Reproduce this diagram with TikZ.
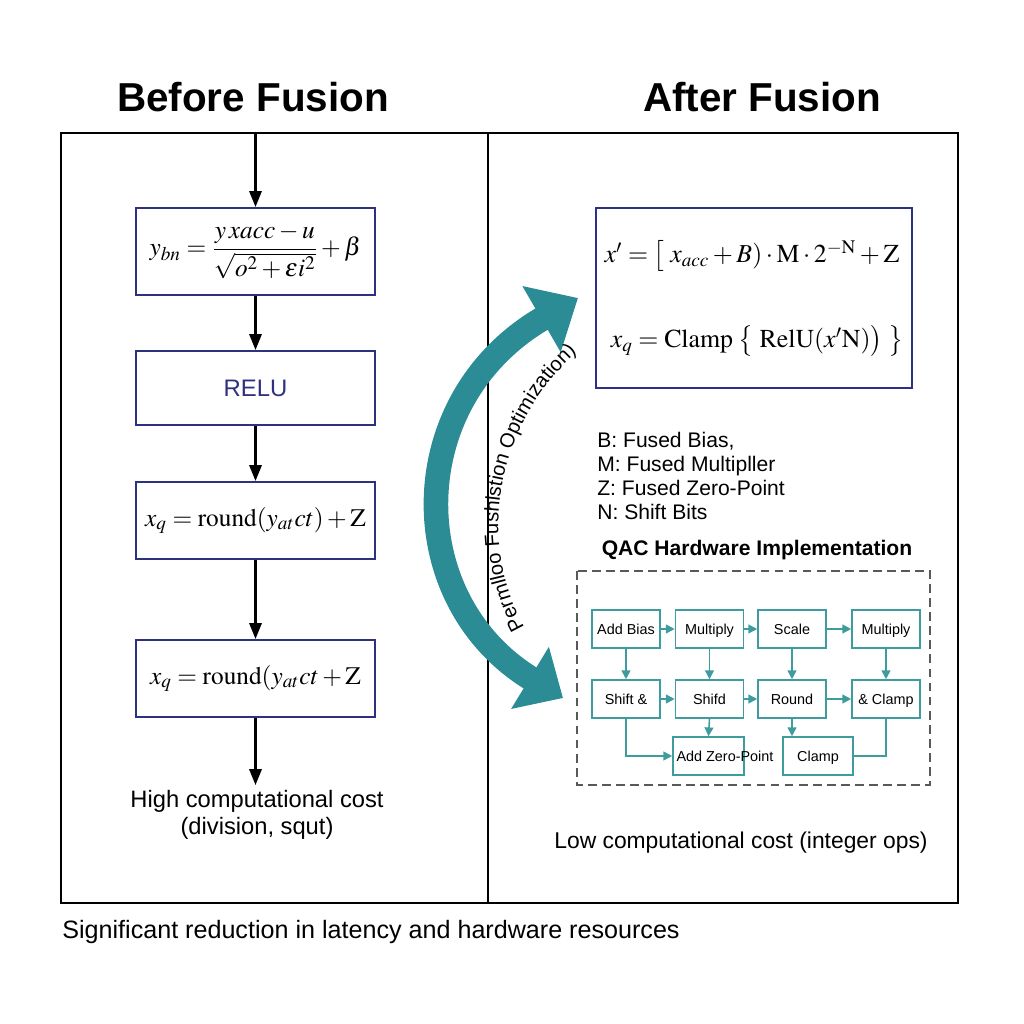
\documentclass[tikz,border=0pt]{standalone}
\usepackage{amsmath}
\usepackage{mathptmx}
\usepackage[no-math]{fontspec}
\setmainfont{Liberation Sans}
\usetikzlibrary{
		arrows.meta,
		decorations.text,
		positioning
	}
\definecolor{navy}{RGB}{46,48,128}
\definecolor{hwteal}{RGB}{62,156,158}
\definecolor{bigteal}{RGB}{44,140,150}
\tikzset{
		>={Triangle[length=9pt,width=7pt]},
		flowbox/.style={draw=navy, line width=1.2pt, minimum width=4.78cm, inner sep=0pt},
		flowarrow/.style={line width=1.2pt, ->},
		hwbox/.style={draw=hwteal, line width=0.9pt, minimum width=1.36cm, minimum height=0.76cm, inner sep=0pt, text height=1.5ex, text depth=0.3ex, font=\fontsize{8.2}{10}\selectfont},
		hwarrow/.style={hwteal, line width=0.9pt, -{Triangle[length=5pt,width=5pt]}},
		eqn/.style={font=\fontsize{14.4}{16}\selectfont},
		bigeqn/.style={font=\fontsize{14.7}{17}\selectfont},
		plain/.style={font=\fontsize{13.5}{15.4}\selectfont},
		title/.style={font=\bfseries\fontsize{23}{26}\selectfont}
	}

\begin{document}
\begin{tikzpicture}[x=0.02cm, y=-0.02cm]
\useasboundingbox (0,0) rectangle (1024,1024);
% headings and frame
\node[title] (before) at (253,97) {Before Fusion};
\node[title] (after) at (762,97) {After Fusion};
\draw[line width=0.8pt] (61,133) rectangle (958,903);
\draw[line width=0.8pt] (488,133) -- (488,903);

% before fusion
\coordinate (intop) at (255.5,133);
\node[flowbox, minimum height=1.74cm, eqn] (bn) at (255.5,251.5) {$y_{bn} = \dfrac{y\,xacc - u}{\sqrt{o^2 + \epsilon i^2}} + \beta$};
\node[flowbox, minimum height=1.48cm, font=\fontsize{13.6}{16}\selectfont, text=navy] (relu) at (255.5,388) {RELU};
\node[flowbox, minimum height=1.54cm, eqn] (xqa) at (255.5,520.5) {$x_q = \mathrm{round}(y_{at}ct) + \mathrm{Z}$};
\node[flowbox, minimum height=1.54cm, eqn] (xqb) at (255.5,678.5) {$x_q = \mathrm{round}(y_{at}ct + \mathrm{Z}$};
\coordinate (outend) at (255.5,785);
\draw[flowarrow] (intop) -- (bn.north);
\draw[flowarrow] (bn) -- (relu);
\draw[flowarrow] (relu) -- (xqa);
\draw[flowarrow] (xqa) -- (xqb);
\draw[flowarrow] (xqb.south) -- (outend);
\node[plain, align=center] (high) at (257,815) {High computational cost\\(division, squt)};

% after fusion
\node[flowbox, minimum width=6.32cm, minimum height=3.6cm] (fused) at (754,298) {};
\node[bigeqn] (fxa) at (752,256) {$x' = \big[\; x_{acc} + B)\cdot\mathrm{M}\cdot 2^{-\mathrm{N}} + \mathrm{Z}$};
\node[bigeqn] (fxb) at (757,341) {$x_q = \mathrm{Clamp}\;\big\{\; \mathrm{RelU}(x'\mathrm{N})\big)\;\big\}$};
\node[anchor=west, inner sep=0pt, align=left, font=\fontsize{12}{13.7}\selectfont] (legend) at (597,476) {B: Fused Bias,\\M: Fused Multipller\\Z: Fused Zero-Point\\N: Shift Bits};

% fusion arrow
\coordinate (fusestart) at (563,698);
\coordinate (fuseend) at (578,298);
\draw[bigteal, line width=14pt, {Triangle[length=22pt,width=40pt]}-{Triangle[length=24pt,width=42pt]}] (fusestart) .. controls (402,600) and (402,400) .. (fuseend);
\path[decorate, decoration={text along path, text align=center, text={|\fontsize{11.5}{13}\selectfont|Permlloo Fushlstion Optimization)}}] (540,650) .. controls (478,575) and (476,425) .. (598,335);

% hardware
\node[font=\bfseries\fontsize{12}{14}\selectfont] (qac) at (757,550) {QAC Hardware Implementation};
\draw[draw=black!65, line width=0.8pt, dash pattern=on 5pt off 3pt] (577,571) rectangle (930,785);
\node[hwbox] (ab) at (626,629) {Add Bias};
\node[hwbox] (mula) at (709.5,629) {Multiply};
\node[hwbox] (scl) at (792,629) {Scale};
\node[hwbox] (mulb) at (886,629) {Multiply};
\node[hwbox] (sha) at (626,699) {Shift \&};
\node[hwbox] (shb) at (709.5,699) {Shifd};
\node[hwbox] (rnd) at (792,699) {Round};
\node[hwbox] (clb) at (886,699) {\& Clamp};
\node[hwbox, minimum width=1.42cm] (zp) at (708.5,756) {};
\node[inner sep=0pt, font=\fontsize{8.2}{10}\selectfont] (zptext) at (725,756) {Add Zero-Point};
\node[hwbox, minimum width=1.4cm] (clc) at (818,756) {Clamp};
\draw[hwarrow] (ab) -- (mula);
\draw[hwarrow] (mula) -- (scl);
\draw[hwarrow] (scl) -- (mulb);
\draw[hwarrow] (ab) -- (sha);
\draw[hwarrow] (mula) -- (shb);
\draw[hwarrow] (scl) -- (rnd);
\draw[hwarrow] (mulb) -- (clb);
\draw[hwarrow] (sha) -- (shb);
\draw[hwarrow] (shb) -- (rnd);
\draw[hwarrow] (rnd) -- (clb);
\draw[hwarrow] (sha.south) |- (zp.west);
\draw[hwarrow] (shb.south) -- (zp.north);
\draw[hwarrow] (rnd.south) -- (rnd.south |- clc.north);
\draw[hwteal, line width=0.9pt] (clb.south) |- (clc.east);

\node[plain, font=\fontsize{13}{15}\selectfont] (low) at (741,843) {Low computational cost (integer ops)};
\node[plain, font=\fontsize{14.3}{16}\selectfont, anchor=west, inner sep=0pt] (summary) at (62,932) {Significant reduction in latency and hardware resources};
\end{tikzpicture}
\end{document}
